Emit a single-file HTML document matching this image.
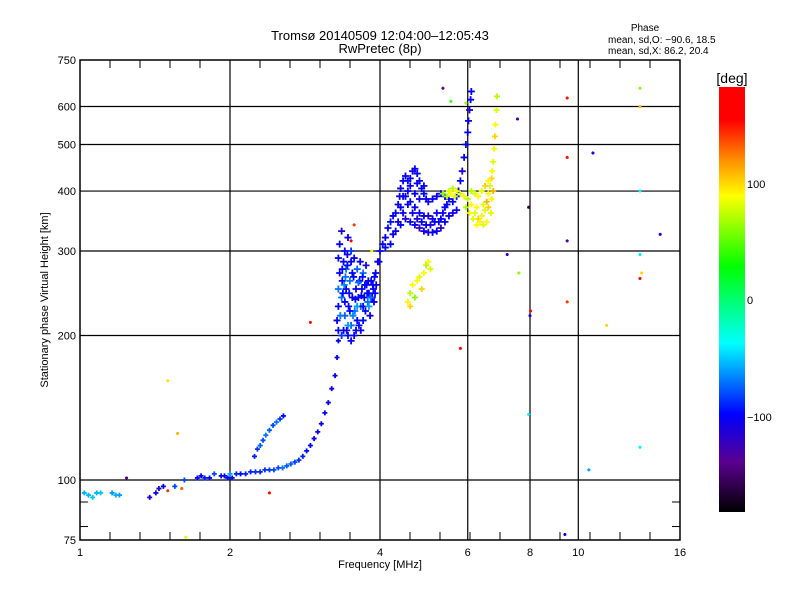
<!DOCTYPE html>
<html><head><meta charset="utf-8"><style>
body{margin:0;background:#fff;}
svg text{font-family:"Liberation Sans",sans-serif;fill:#000;}
</style></head><body>
<svg id="chart" width="800" height="600" xmlns="http://www.w3.org/2000/svg">
<defs>
<linearGradient id="cbar" x1="0" y1="0" x2="0" y2="1">
<stop offset="0" stop-color="#ff0000"/><stop offset="0.078" stop-color="#ff0000"/>
<stop offset="0.17" stop-color="#ff8c00"/><stop offset="0.256" stop-color="#ffff00"/>
<stop offset="0.422" stop-color="#00ff00"/><stop offset="0.603" stop-color="#00ffff"/>
<stop offset="0.77" stop-color="#0000ff"/><stop offset="0.883" stop-color="#5a0090"/>
<stop offset="1" stop-color="#000000"/>
</linearGradient>
</defs>
<text x="380" y="40" font-size="13" text-anchor="middle">Tromsø 20140509 12:04:00–12:05:43</text>
<text x="380" y="53" font-size="13" text-anchor="middle">RwPretec (8p)</text>
<text x="645" y="31" font-size="10" text-anchor="middle">Phase</text>
<text x="608" y="43" font-size="10">mean, sd,O: −90.6, 18.5</text>
<text x="608" y="54" font-size="10">mean, sd,X:  86.2, 20.4</text>
<g id="grid"></g>
<g id="marks"></g>
<rect x="80" y="60" width="600" height="480" fill="none" stroke="#000" stroke-width="1.5"/>
<g id="ticks"></g>
<text x="380" y="568" font-size="11" text-anchor="middle">Frequency [MHz]</text>
<text transform="translate(48,300) rotate(-90)" font-size="11" text-anchor="middle">Stationary phase Virtual Height [km]</text>
<rect x="719" y="87" width="26" height="425" fill="url(#cbar)"/>
<text x="732" y="83" font-size="14" text-anchor="middle">[deg]</text>
<text x="747" y="188" font-size="11">100</text>
<text x="747" y="304" font-size="11">0</text>
<text x="747" y="421" font-size="11">−100</text>
</svg>
<script>
const xTickValues=[1,2,4,6,8,10,16];
const xTickLabels=["1","2","4","6","8","10","16"];
const yTickValues=[75,100,200,300,400,500,600,750];
const yTickLabels=["75","100","200","300","400","500","600","750"];
const yGridValues=[100,200,300,400,500,600];
const xGridValues=[2,4,6,8,10];

const lowTrace=[[1.02,94,-55],[1.04,93,-55],[1.06,92,-50],[1.08,94,-55],[1.10,94,-50],[1.16,94,-60],[1.18,93,-55],[1.20,93,-60],
[1.38,92,-105],[1.42,94,-105],[1.44,96,-110],[1.47,97,-100],[1.55,97,-80],[1.62,100,-80],
[1.72,101,-95],[1.75,102,-100],[1.78,101,-90],[1.82,101,-95],[1.86,103,-80],
[1.92,102,-95],[1.95,102,-100],[1.98,101,-95],[2.0,103,-60],[2.02,101,-95],
[2.06,103,-90],[2.10,103,-95],[2.15,103,-90],[2.2,104,-90],[2.25,104,-85],[2.3,104,-90],[2.35,105,-85],[2.4,105,-85],[2.45,105,-80],[2.5,106,-80],[2.55,106,-70],[2.6,107,-75],[2.65,108,-75],[2.7,109,-80],[2.75,110,-85],[2.8,112,-90],[2.85,115,-95],[2.9,118,-95],[2.95,122,-100],[3.0,126,-100],[3.05,131,-100],[3.1,138,-100],[3.15,145,-100],[3.2,155,-105],[3.25,165,-100],[3.28,180,-100],[3.3,195,-100]];
const upperBranch=[[2.24,112,-90],[2.27,116,-85],[2.3,118,-75],[2.33,121,-80],[2.36,124,-70],[2.4,127,-75],[2.44,130,-80],[2.48,132,-70],[2.52,134,-85],[2.56,136,-95]];
const spreadCluster=[[3.28,215,-100],[3.3,230,-95],[3.3,250,-70],[3.32,270,-100],[3.3,290,-95],[3.32,310,-100],[3.35,200,-85],[3.35,240,-70],[3.36,260,-100],[3.38,285,-95],[3.38,205,-100],[3.4,220,-75],[3.42,250,-100],[3.42,275,-70],[3.44,295,-100],[3.45,200,-95],[3.46,230,-100],[3.48,260,-70],[3.5,285,-100],[3.5,210,-75],[3.52,240,-100],[3.54,265,-95],[3.55,200,-100],[3.56,225,-70],[3.58,250,-100],[3.6,275,-75],[3.6,215,-100],[3.62,240,-95],[3.64,260,-100],[3.66,230,-70],[3.68,250,-100],[3.7,215,-95],[3.7,270,-70],[3.72,240,-100],[3.74,225,-100],[3.76,255,-95],[3.78,235,-70],[3.8,245,-100],[3.82,220,-100],[3.84,260,-95],[3.86,240,-100],[3.88,250,-100],[3.9,265,-100],[3.4,300,-100],[3.45,320,-100],[3.35,330,-110],[3.5,300,-85],[3.55,290,-100],[3.65,285,-100],[3.75,280,-110],[3.45,210,-60],[3.5,195,-100],[3.4,235,-100],[3.6,230,-60],[3.7,230,-100],[3.8,230,-60],[3.3,205,-95],[3.48,225,-95],[3.58,205,-100],[3.66,205,-100],
[3.33,220,-70],[3.37,245,-95],[3.41,265,-70],[3.43,205,-100],[3.47,245,-95],[3.52,270,-100],[3.53,220,-65],[3.57,238,-100],[3.62,258,-70],[3.63,210,-95],[3.67,242,-100],[3.69,265,-95],[3.73,255,-100],[3.77,245,-95],[3.79,260,-100],[3.83,240,-70],[3.87,255,-100],[3.89,235,-100],[3.91,245,-95],[3.93,255,-100],[3.36,275,-100],[3.39,255,-65],[3.44,280,-95]];
const fTrace=[[3.92,270,-100],[3.96,285,-100],[4.0,300,-95],[4.05,310,-100],[4.1,320,-100],[4.15,335,-100],[4.2,345,-95],[4.25,355,-100],[4.3,360,-100],[4.35,375,-100],[4.38,390,-105],[4.4,405,-100],[4.45,420,-100],[4.5,430,-100],[4.55,420,-95],[4.6,410,-100],[4.65,440,-105],[4.7,445,-100],[4.75,435,-100],[4.8,420,-100],[4.85,405,-100],[4.9,395,-95],[4.95,385,-100],[5.0,380,-100],[5.1,385,-100],[5.2,390,-100],[5.3,395,-110],[5.4,390,-100],[5.5,385,-100],[5.6,380,-100],[5.7,390,-95],[5.75,400,-100],[5.8,420,-100],[5.85,440,-110],[5.9,470,-100],[5.95,500,-95],[6.0,530,-100],[6.02,560,-100],[6.05,590,-110],[6.08,620,-100],[6.1,645,-100],
[4.4,370,-100],[4.45,360,-100],[4.5,350,-110],[4.6,345,-100],[4.7,340,-100],[4.8,335,-120],[4.9,330,-100],[5.0,328,-110],[5.1,328,-100],[5.2,330,-100],[5.3,335,-120],[5.4,345,-100],[5.5,355,-100],[5.6,360,-110],[5.7,365,-100],[4.5,390,-100],[4.6,380,-95],[4.7,370,-100],[4.8,360,-100],[4.9,355,-100],[5.0,355,-110],[5.2,360,-100],[5.4,370,-100],[4.55,400,-100],[4.7,395,-100],[4.8,385,-100],[5.1,350,-100],[5.3,350,-100],[4.4,340,-100],[4.3,330,-100],[4.2,310,-100],
[4.45,390,-100],[4.55,375,-100],[4.65,360,-100],[4.75,350,-110],[4.85,345,-100],[4.95,340,-100],[5.05,340,-110],[5.15,345,-100],[5.25,345,-100],[5.35,360,-100],[5.45,375,-100],[4.6,425,-100],[4.75,415,-100],[4.9,410,-100],[4.35,345,-100],[4.25,325,-100],[4.1,305,-95],[3.98,285,-100]];
const xTrace=[[4.55,235,90],[4.6,245,70],[4.65,255,90],[4.7,240,60],[4.75,260,90],[4.8,265,80],[4.85,250,100],[4.9,270,90],[4.95,280,70],[5.0,285,90],[5.05,275,80],[4.6,230,100],
[5.45,390,70],[5.5,400,80],[5.55,395,90],[5.6,405,70],[5.7,400,90],[5.8,395,80],[5.9,390,90],[6.0,385,70],[6.1,375,90],[6.2,360,80],[6.3,350,100],[6.4,355,90],[6.5,365,80],[6.55,380,110],[6.6,395,90],[6.65,410,80],[6.7,425,100],[6.72,440,90],[6.75,460,80],[6.78,490,90],[6.8,520,100],[6.82,550,90],[6.85,590,80],[6.87,630,70],[6.3,390,90],[6.4,400,80],[6.5,410,100],[6.6,420,90],[6.2,395,80],[6.1,400,70],[6.35,345,90],[6.45,340,80],[6.55,345,90],
[5.35,395,60],[5.65,390,80],[5.95,370,70],[6.05,360,90],[6.15,350,80],[6.25,370,90],[6.45,375,80],[6.6,370,100],[6.7,385,90],[6.75,400,110],[6.68,360,80],[6.25,340,90]];
const outliers=[[1.24,101,-140],[1.5,161,95],[1.57,125,110],[1.63,76,80],[1.5,95,140],[1.6,96,130],[2.4,94,150],[2.9,213,150],[3.55,340,140],[3.5,315,160],[3.85,300,80],[5.35,655,-140],[5.55,615,40],[5.8,188,170],[5.95,610,60],[7.2,295,-110],[7.55,565,-130],[7.6,270,60],[7.95,370,-160],[8.0,220,-110],[8.02,225,150],[7.95,137,-40],[9.5,625,150],[9.5,470,150],[9.5,315,-130],[9.5,235,140],[9.4,77,-100],[10.5,105,-60],[10.7,480,-100],[11.4,210,100],[13.3,655,60],[13.3,600,110],[13.3,400,-40],[13.3,295,-40],[13.4,270,100],[13.3,263,150],[13.3,117,-40],[14.6,325,-110]];

const NS="http://www.w3.org/2000/svg";
function xScale(f){return 80+150*Math.log2(f);}
function yScale(h){return 540-480*Math.log10(h/75);}
const cStops=[[-180,[0,0,0]],[-138,[90,0,144]],[-97,[0,0,255]],[-37,[0,255,255]],[28,[0,255,0]],[88,[255,255,0]],[120,[255,140,0]],[152,[255,0,0]],[180,[255,0,0]]];
function phaseColor(v){
  for(let i=0;i<cStops.length-1;i++){const a=cStops[i],b=cStops[i+1];
    if(v<=b[0]){const t=Math.max(0,(v-a[0])/(b[0]-a[0]));
      return "rgb("+a[1].map((c,k)=>Math.round(c+(b[1][k]-c)*t)).join(",")+")";}}
  return "rgb(255,0,0)";
}
function line(g,x1,y1,x2,y2,w){const l=document.createElementNS(NS,"line");
  l.setAttribute("x1",x1);l.setAttribute("y1",y1);l.setAttribute("x2",x2);l.setAttribute("y2",y2);
  l.setAttribute("stroke","#000");l.setAttribute("stroke-width",w);g.appendChild(l);return l;}
const grid=document.getElementById("grid");
yGridValues.forEach(v=>{const l=line(grid,80,yScale(v),680,yScale(v),1.2);

});
xGridValues.forEach(v=>{const l=line(grid,xScale(v),60,xScale(v),540,1.2);

});
const ticks=document.getElementById("ticks");
for(let p=110;p<680;p+=30){line(ticks,p,540,p,532,1);line(ticks,p,60,p,68,1);}
[80,90].forEach(v=>{line(ticks,80,yScale(v),88,yScale(v),1);line(ticks,680,yScale(v),672,yScale(v),1);});
xTickValues.forEach((v,i)=>{const t=document.createElementNS(NS,"text");
t.setAttribute("x",xScale(v));t.setAttribute("y",556);t.setAttribute("font-size","11");t.setAttribute("text-anchor","middle");
t.textContent=xTickLabels[i];


ticks.appendChild(t);});
yTickValues.forEach((v,i)=>{const t=document.createElementNS(NS,"text");
t.setAttribute("x",76);t.setAttribute("y",yScale(v)+4);t.setAttribute("font-size","11");t.setAttribute("text-anchor","end");
t.textContent=yTickLabels[i];


ticks.appendChild(t);});
const marks=document.getElementById("marks");
function drawSet(arr,name,size){
  arr.forEach(d=>{const x=xScale(d[0]),y=yScale(d[1]);
    const p=document.createElementNS(NS,"path");
    p.setAttribute("d","M"+(x-size)+" "+y+"H"+(x+size)+"M"+x+" "+(y-size)+"V"+(y+size));
    p.setAttribute("stroke",phaseColor(d[2]));p.setAttribute("stroke-width","1.8");
    
    
    marks.appendChild(p);});
}
drawSet(lowTrace,"low-trace-point",2.5);
drawSet(upperBranch,"upper-branch-point",2.5);
drawSet(spreadCluster,"spread-cluster-point",3.5);
drawSet(fTrace,"f-trace-point",3.5);
drawSet(xTrace,"x-trace-point",3);
drawSet(outliers,"outlier-point",1.5);
</script>
</body></html>
